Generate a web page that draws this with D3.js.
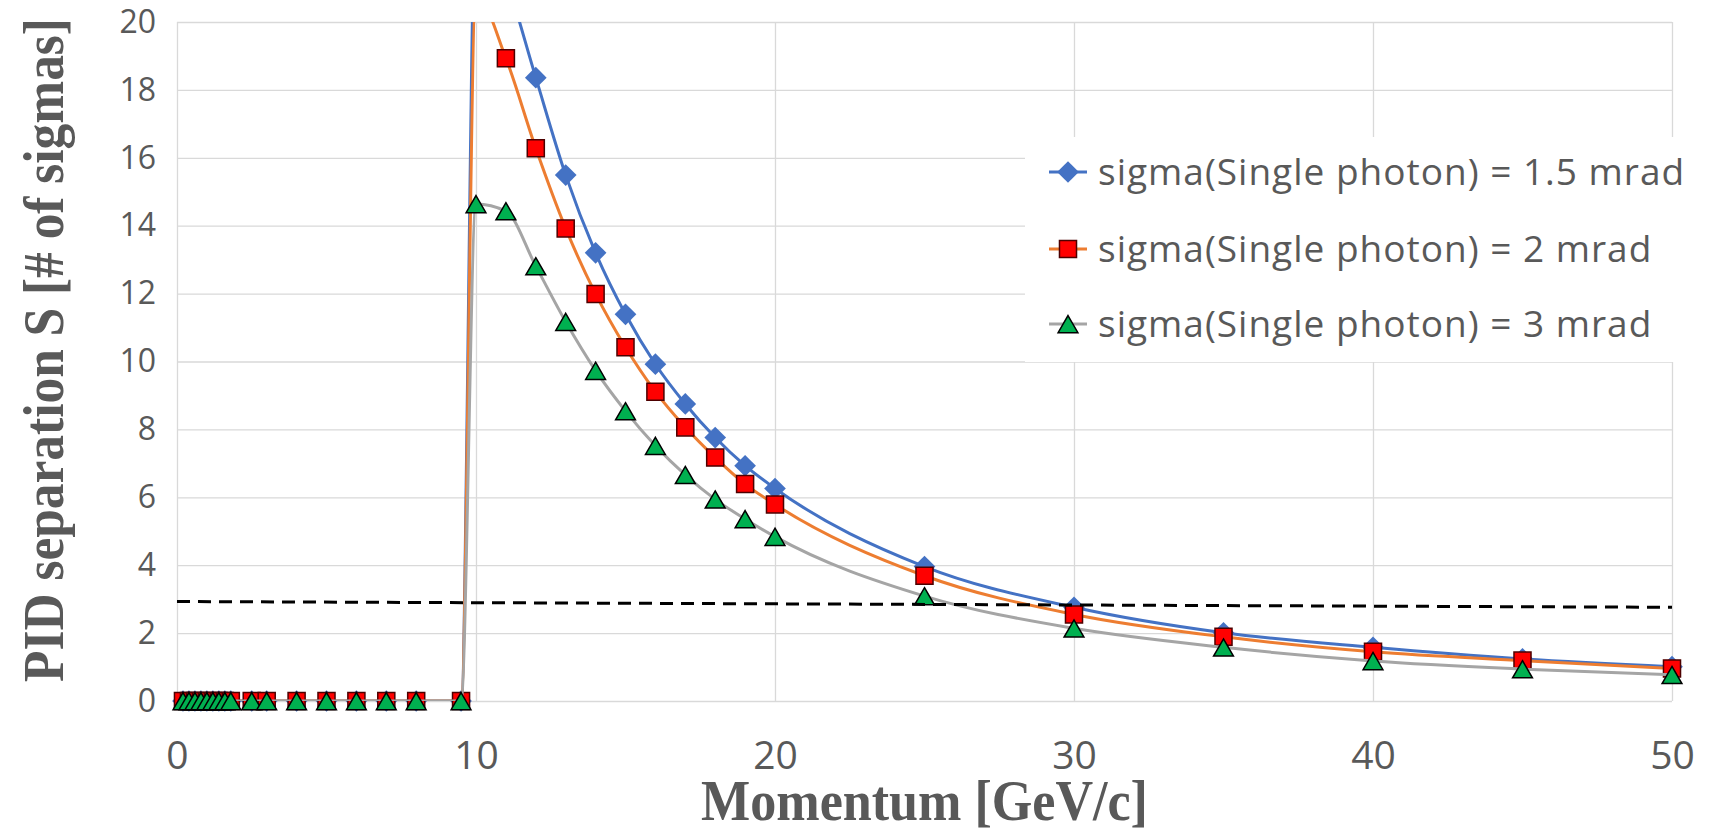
<!DOCTYPE html>
<html>
<head>
<meta charset="utf-8">
<script src="https://cdn.jsdelivr.net/npm/d3@7"></script>
<style>
  body { margin: 0; background: #fff; }
  svg { display: block; }
</style>
</head>
<body>
<div id="chart"></div>
<script>
// momentum points [GeV/c] shared by the three series
var momentum = [0.2, 0.4, 0.6, 0.8, 1.0, 1.2, 1.4, 1.6, 1.8, 2.5, 3, 4, 5, 6, 7, 8, 9.5,
                10, 11, 12, 13, 14, 15, 16, 17, 18, 19, 20, 25, 30, 35, 40, 45, 50];

// PID separation S [# of sigmas]
var sep_1p5mrad = [0, 0, 0, 0, 0, 0, 0, 0, 0, 0, 0, 0, 0, 0, 0, 0, 0,
                   23.5, 21.3, 18.36, 15.49, 13.2, 11.39, 9.92, 8.75, 7.76, 6.93, 6.26, 3.96, 2.76, 2.01, 1.58, 1.24, 1.01];
var sep_2mrad   = [0, 0, 0, 0, 0, 0, 0, 0, 0, 0, 0, 0, 0, 0, 0, 0, 0,
                   20.8, 18.93, 16.28, 13.92, 11.99, 10.42, 9.11, 8.06, 7.17, 6.39, 5.79, 3.69, 2.55, 1.89, 1.45, 1.19, 0.96];
var sep_3mrad   = [0, 0, 0, 0, 0, 0, 0, 0, 0, 0, 0, 0, 0, 0, 0, 0, 0,
                   14.64, 14.43, 12.81, 11.17, 9.73, 8.54, 7.52, 6.66, 5.94, 5.36, 4.84, 3.09, 2.14, 1.58, 1.18, 0.94, 0.77];

// 3 sigma reference line (dashed)
var threshold_x = [0, 50];
var threshold_y = [2.93, 2.76];

var series_names = ["sigma(Single photon) = 1.5 mrad",
                    "sigma(Single photon) = 2 mrad",
                    "sigma(Single photon) = 3 mrad"];

var x_ticks = [0, 10, 20, 30, 40, 50];
var y_ticks = [0, 2, 4, 6, 8, 10, 12, 14, 16, 18, 20];

var width = 1717, height = 840;
var margin = {top: 22, right: 45, bottom: 139, left: 177};

var svg = d3.select("#chart").append("svg")
    .attr("width", width)
    .attr("height", height);

var x = d3.scaleLinear().domain([0, 50]).range([margin.left, width - margin.right]);
var y = d3.scaleLinear().domain([0, 20]).range([height - margin.bottom, margin.top]);

var grid_color = "#d9d9d9";
var text_color = "#595959";
var tick_font = "'Open Sans', 'Noto Sans', sans-serif";
var title_font = "'Liberation Serif', 'Times New Roman', serif";

// gridlines
svg.append("g")
    .attr("transform", "translate(0," + (height - margin.bottom) + ")")
    .call(d3.axisBottom(x).tickValues(x_ticks).tickSize(-(height - margin.bottom - margin.top)).tickFormat(""))
    .call(function(g) { g.select(".domain").remove(); })
    .selectAll("line").attr("stroke", grid_color).attr("stroke-width", 1.3);

svg.append("g")
    .attr("transform", "translate(" + margin.left + ",0)")
    .call(d3.axisLeft(y).tickValues(y_ticks).tickSize(-(width - margin.left - margin.right)).tickFormat(""))
    .call(function(g) { g.select(".domain").remove(); })
    .selectAll("line").attr("stroke", grid_color).attr("stroke-width", 1.3);

// tick labels
svg.append("g")
    .attr("transform", "translate(0," + (height - margin.bottom) + ")")
    .call(d3.axisBottom(x).tickValues(x_ticks).tickSize(0).tickPadding(40))
    .call(function(g) { g.select(".domain").remove(); })
    .selectAll("text")
      .attr("fill", text_color)
      .style("font-family", tick_font)
      .style("font-size", "39px");

svg.append("g")
    .attr("transform", "translate(" + margin.left + ",0)")
    .call(d3.axisLeft(y).tickValues(y_ticks).tickSize(0).tickPadding(21))
    .call(function(g) { g.select(".domain").remove(); })
    .selectAll("text")
      .attr("fill", text_color)
      .style("font-family", tick_font)
      .style("font-size", "32px");

// axis titles: bold serif, squeezed horizontally to the reference length
function squeeze(sel, target) {
  var len = sel.node().getComputedTextLength();
  return Math.min(1, target / len);
}

var x_title = svg.append("text")
    .attr("text-anchor", "middle")
    .attr("fill", text_color)
    .style("font-family", title_font)
    .style("font-weight", "bold")
    .style("font-size", "58px")
    .text("Momentum [GeV/c]");
x_title.attr("transform", "translate(" + ((margin.left + width - margin.right) / 2) + ",820) scale(" + squeeze(x_title, 447) + ",1)");

var y_title = svg.append("text")
    .attr("text-anchor", "middle")
    .attr("fill", text_color)
    .style("font-family", title_font)
    .style("font-weight", "bold")
    .style("font-size", "58px")
    .text("PID separation S [# of sigmas]");
y_title.attr("transform", "translate(63,350) rotate(-90) scale(" + squeeze(y_title, 664) + ",1)");

// clip the curves to the plot area
svg.append("clipPath")
    .attr("id", "plot-clip")
  .append("rect")
    .attr("x", margin.left)
    .attr("y", margin.top)
    .attr("width", width - margin.left - margin.right)
    .attr("height", height - margin.top - margin.bottom);

var series = [
  {name: series_names[0], values: sep_1p5mrad, line: "#4472c4", fill: "#4472c4", stroke: "none",    symbol: d3.symbolDiamond2, size: 300, dy: 0},
  {name: series_names[1], values: sep_2mrad,   line: "#ed7d31", fill: "#ff0000", stroke: "#4d0000", symbol: d3.symbolSquare2,  size: 370, dy: 0},
  {name: series_names[2], values: sep_3mrad,   line: "#a5a5a5", fill: "#00b050", stroke: "#000000", symbol: d3.symbolTriangle, size: 170, dy: 3}
];

// Excel style smoothed lines, no loops on the steep threshold rise
var line = d3.line()
    .x(function(d) { return x(d[0]); })
    .y(function(d) { return y(d[1]); })
    .curve(d3.curveMonotoneX);

var plot = svg.append("g");

series.forEach(function(s) {
  var pts = momentum.map(function(m, i) { return [m, s.values[i]]; });

  plot.append("path")
      .datum(pts)
      .attr("clip-path", "url(#plot-clip)")
      .attr("fill", "none")
      .attr("stroke", s.line)
      .attr("stroke-width", 3)
      .attr("d", line);

  plot.selectAll(null)
      .data(pts.filter(function(d) { return d[1] <= 20; }))
      .enter().append("path")
        .attr("transform", function(d) { return "translate(" + x(d[0]) + "," + (y(d[1]) + s.dy) + ")"; })
        .attr("d", d3.symbol().type(s.symbol).size(s.size))
        .attr("fill", s.fill)
        .attr("stroke", s.stroke)
        .attr("stroke-width", 1.5);
});

// dashed threshold
plot.append("path")
    .datum(threshold_x.map(function(v, i) { return [v, threshold_y[i]]; }))
    .attr("fill", "none")
    .attr("stroke", "#000")
    .attr("stroke-width", 3)
    .attr("stroke-dasharray", "13,8")
    .attr("d", d3.line().x(function(d) { return x(d[0]); }).y(function(d) { return y(d[1]); }));

// legend
var legend = svg.append("g");

legend.append("rect")
    .attr("x", 1025)
    .attr("y", 137)
    .attr("width", width - 1025)
    .attr("height", 225)
    .attr("fill", "#fff");

var legend_rows = [172, 249, 324];

series.forEach(function(s, i) {
  var g = legend.append("g").attr("transform", "translate(1068," + legend_rows[i] + ")");
  g.append("line")
      .attr("x1", -19).attr("x2", 19)
      .attr("stroke", s.line)
      .attr("stroke-width", 3);
  g.append("path")
      .attr("transform", "translate(0," + s.dy + ")")
      .attr("d", d3.symbol().type(s.symbol).size(s.size))
      .attr("fill", s.fill)
      .attr("stroke", s.stroke)
      .attr("stroke-width", 1.5);
  g.append("text")
      .attr("x", 30)
      .attr("dy", "0.35em")
      .attr("fill", text_color)
      .style("font-family", tick_font)
      .style("font-size", "37px")
      .style("letter-spacing", "1px")
      .text(s.name);
});
</script>
</body>
</html>
